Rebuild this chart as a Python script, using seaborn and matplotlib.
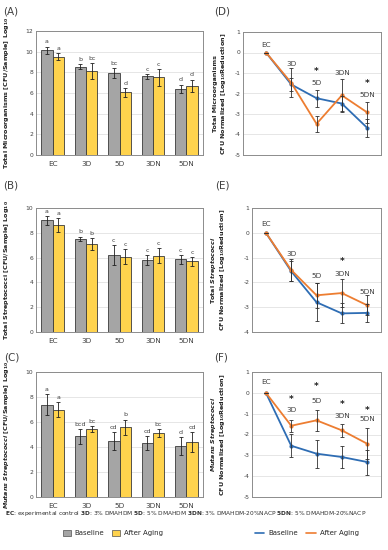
import numpy as np
import pandas as pd
import matplotlib
matplotlib.use('Agg')
import matplotlib.pyplot as plt
import seaborn as sns
from matplotlib.patches import Patch
from matplotlib.lines import Line2D

sns.set_theme(style='white')
plt.rcParams['font.family'] = ['DejaVu Sans']
plt.rcParams['mathtext.fontset'] = 'dejavusans'
plt.rcParams['axes.unicode_minus'] = False

categories = ['EC', '3D', '5D', '3DN', '5DN']
series = ['Baseline', 'After Aging']

# ---- Bar panels (means, SD, letters) ----
tm_base = [10.15, 8.55, 7.95, 7.6, 6.4]
tm_base_err = [0.35, 0.22, 0.48, 0.24, 0.42]
tm_aged = [9.5, 8.15, 6.05, 7.5, 6.7]
tm_aged_err = [0.35, 0.75, 0.4, 0.8, 0.6]
tm_base_let = ['a', 'b', 'bc', 'c', 'd']
tm_aged_let = ['a', 'bc', 'd', 'c', 'd']

ts_base = [9.0, 7.5, 6.2, 5.8, 5.85]
ts_base_err = [0.37, 0.2, 0.78, 0.4, 0.37]
ts_aged = [8.6, 7.08, 6.07, 6.15, 5.7]
ts_aged_err = [0.56, 0.47, 0.6, 0.6, 0.37]
ts_base_let = ['a', 'b', 'c', 'c', 'c']
ts_aged_let = ['a', 'b', 'c', 'c', 'c']

ms_base = [7.4, 4.85, 4.5, 4.32, 4.08]
ms_base_err = [0.84, 0.6, 0.73, 0.53, 0.7]
ms_aged = [7.0, 5.44, 5.6, 5.12, 4.37]
ms_aged_err = [0.61, 0.23, 0.6, 0.35, 0.8]
ms_base_let = ['a', 'bcd', 'cd', 'cd', 'd']
ms_aged_let = ['a', 'bc', 'b', 'bc', 'cd']

# ---- Line panels (log reduction, SD) ----
d_base = [0, -1.56, -2.23, -2.49, -3.67]
d_base_err = [0, 0.3, 0.42, 0.35, 0.43]
d_aged = [0, -1.48, -3.48, -2.09, -2.92]
d_aged_err = [0, 0.7, 0.38, 0.8, 0.5]
d_stars = [None, None, -0.95, None, -1.51]

e_base = [0, -1.55, -2.8, -3.25, -3.23]
e_base_err = [0, 0.4, 0.77, 0.4, 0.35]
e_aged = [0, -1.5, -2.52, -2.43, -2.92]
e_aged_err = [0, 0.45, 0.5, 0.55, 0.4]
e_stars = [None, None, None, -1.15, None]

f_base = [0, -2.54, -2.92, -3.08, -3.32]
f_base_err = [0, 0.55, 0.67, 0.53, 0.6]
f_aged = [0, -1.58, -1.32, -1.8, -2.44]
f_aged_err = [0, 0.3, 0.52, 0.3, 0.75]
f_stars = [None, -0.3, 0.28, -0.54, -0.84]

W, H = 388, 550
fig = plt.figure(figsize=(W / 100, H / 100), dpi=100)

def rect(l, r, t, b):
    return [l / W, 1 - b / H, (r - l) / W, (b - t) / H]

GRAY = '#A5A5A5'
YELLOW = '#FFD34D'
BLUE = '#2E6DB4'
ORANGE = '#ED7D31'
FRAME = '#8C8C8C'
TXT = '#404040'

def style_axes(ax):
    for s in ax.spines.values():
        s.set_visible(True)
        s.set_color(FRAME)
        s.set_linewidth(0.7)
    ax.yaxis.grid(True, color='#E2E2E2', lw=0.6)
    ax.set_axisbelow(True)
    ax.tick_params(axis='both', length=0, pad=2, colors=TXT)
    for lab in ax.get_yticklabels():
        lab.set_fontsize(4.3)

def bar_panel(pos, base, berr, aged, aerr, blet, alet, ymax, ylabel, lx):
    ax = fig.add_axes(rect(*pos))
    df = pd.DataFrame({
        'category': categories * 2,
        'series': [series[0]] * 5 + [series[1]] * 5,
        'value': list(base) + list(aged),
    })
    sns.barplot(data=df, x='category', y='value', hue='series', order=categories,
                hue_order=series, palette=[GRAY, YELLOW], width=0.68, saturation=1,
                edgecolor='#3A3A3A', linewidth=0.6, errorbar=None, legend=False, ax=ax)
    for cont, err, lets in zip(ax.containers, [berr, aerr], [blet, alet]):
        xs = [b.get_x() + b.get_width() / 2 for b in cont]
        hs = [b.get_height() for b in cont]
        ax.errorbar(xs, hs, yerr=err, fmt='none', ecolor='#202020', elinewidth=0.6,
                    capsize=1.6, capthick=0.6)
        for x, h, e, l in zip(xs, hs, err, lets):
            ax.annotate(l, (x, h + e), xytext=(0, 1.5), textcoords='offset points',
                        ha='center', va='bottom', fontsize=4.5, color=TXT)
    ax.set_xlim(-0.5, 4.5)
    ax.set_ylim(0, ymax)
    ax.set_yticks(np.arange(0, ymax + 0.1, 2))
    ax.set_xlabel('')
    ax.set_ylabel(ylabel, fontsize=4.6, fontweight='bold', color='#202020')
    ax.yaxis.set_label_coords(lx, 0.5)
    style_axes(ax)
    for lab in ax.get_xticklabels():
        lab.set_fontsize(5.2)
        lab.set_color(TXT)
    ax.tick_params(axis='x', pad=4)
    return ax

def line_panel(pos, base, berr, aged, aerr, stars, ymin, xlim, ylabel, lx, labpos):
    ax = fig.add_axes(rect(*pos))
    xpos = list(range(5))
    df = pd.DataFrame({
        'pos': xpos * 2,
        'series': [series[0]] * 5 + [series[1]] * 5,
        'value': list(base) + list(aged),
    })
    sns.lineplot(data=df, x='pos', y='value', hue='series', hue_order=series,
                 palette=[BLUE, ORANGE], marker='o', markersize=3, markeredgewidth=0,
                 linewidth=1.3, legend=False, ax=ax)
    for vals, err in [(base, berr), (aged, aerr)]:
        ax.errorbar(xpos, vals, yerr=err, fmt='none', ecolor='#303030', elinewidth=0.6,
                    capsize=1.6, capthick=0.6)
    for x, s in zip(xpos, stars):
        if s is not None:
            ax.text(x, s, '*', ha='center', va='center', fontsize=6.5,
                    fontweight='bold', color='#202020')
    for x, (c, yv) in enumerate(zip(categories, labpos)):
        ax.text(x, yv, c, ha='center', va='center', fontsize=5.2, color=TXT)
    ax.set_xlim(*xlim)
    ax.set_ylim(ymin, 1)
    ax.set_yticks(np.arange(ymin, 1.1, 1))
    ax.set_xticks([])
    ax.set_xlabel('')
    ax.set_ylabel(ylabel, fontsize=4.6, fontweight='bold', color='#202020', linespacing=1.1)
    ax.yaxis.set_label_coords(lx, 0.5)
    style_axes(ax)
    return ax

bar_panel((36, 203, 31, 155), tm_base, tm_base_err, tm_aged, tm_aged_err,
          tm_base_let, tm_aged_let, 12,
          r'Total Microorganisms [CFU/Sample] Log$_{\mathbf{10}}$', -0.15)
bar_panel((36, 203, 208, 332), ts_base, ts_base_err, ts_aged, ts_aged_err,
          ts_base_let, ts_aged_let, 10,
          r'Total Streptococci [CFU/Sample] Log$_{\mathbf{10}}$', -0.15)
bar_panel((36, 203, 372, 497), ms_base, ms_base_err, ms_aged, ms_aged_err,
          ms_base_let, ms_aged_let, 10,
          r'$\mathbfit{Mutans\ Streptococci}$ [CFU/Sample] Log$_{\mathbf{10}}$', -0.15)

line_panel((243, 381, 32, 155), d_base, d_base_err, d_aged, d_aged_err, d_stars, -5,
           (-0.91, 4.55),
           'Total Microorganisms\n' + r'CFU Normalized [Log$_{\mathbf{10}}$Reduction]', -0.11,
           [0.36, -0.57, -1.48, -1.0, -2.07])
line_panel((252, 381, 208, 332), e_base, e_base_err, e_aged, e_aged_err, e_stars, -4,
           (-0.55, 4.55),
           r'Total $\mathbfit{Streptococci}$' + '\n' + r'CFU Normalized [Log$_{\mathbf{10}}$Reduction]', -0.19,
           [0.34, -0.84, -1.73, -1.66, -2.4])
line_panel((252, 381, 372, 497), f_base, f_base_err, f_aged, f_aged_err, f_stars, -5,
           (-0.55, 4.55),
           r'$\mathbfit{Mutans\ Streptococci}$' + '\n' + r'CFU Normalized [Log$_{\mathbf{10}}$Reduction]', -0.19,
           [0.52, -0.84, -0.41, -1.13, -1.26])

for lab, x, y in [('(A)', 3, 12), ('(D)', 214, 12), ('(B)', 3, 185), ('(E)', 215, 185),
                  ('(C)', 4, 357), ('(F)', 214, 357)]:
    fig.text(x / W, 1 - y / H, lab, fontsize=7.5, color=TXT, va='center', ha='left')

footer = (r'$\mathbf{EC}$: experimental control $\mathbf{3D}$: 3% DMAHDM '
          r'$\mathbf{5D}$: 5% DMAHDM $\mathbf{3DN}$: 3% DMAHDM-20%NACP '
          r'$\mathbf{5DN}$: 5% DMAHDM-20%NACP')
fig.text(5 / W, 1 - 513 / H, footer, fontsize=4.2, color='#303030', va='center', ha='left')

bar_handles = [Patch(facecolor=GRAY, edgecolor='#505050', linewidth=0.5),
               Patch(facecolor=YELLOW, edgecolor='#505050', linewidth=0.5)]
fig.legend(bar_handles, series, loc='center', bbox_to_anchor=(113 / W, 1 - 533 / H),
           ncol=2, frameon=False, fontsize=5, handlelength=1.1, handleheight=1.1,
           columnspacing=1.2, handletextpad=0.5)
line_handles = [Line2D([], [], color=BLUE, lw=1.2), Line2D([], [], color=ORANGE, lw=1.2)]
fig.legend(line_handles, series, loc='center', bbox_to_anchor=(307 / W, 1 - 533 / H),
           ncol=2, frameon=False, fontsize=5, handlelength=1.3,
           columnspacing=1.2, handletextpad=0.6)

fig.savefig('out.png', dpi=100)
